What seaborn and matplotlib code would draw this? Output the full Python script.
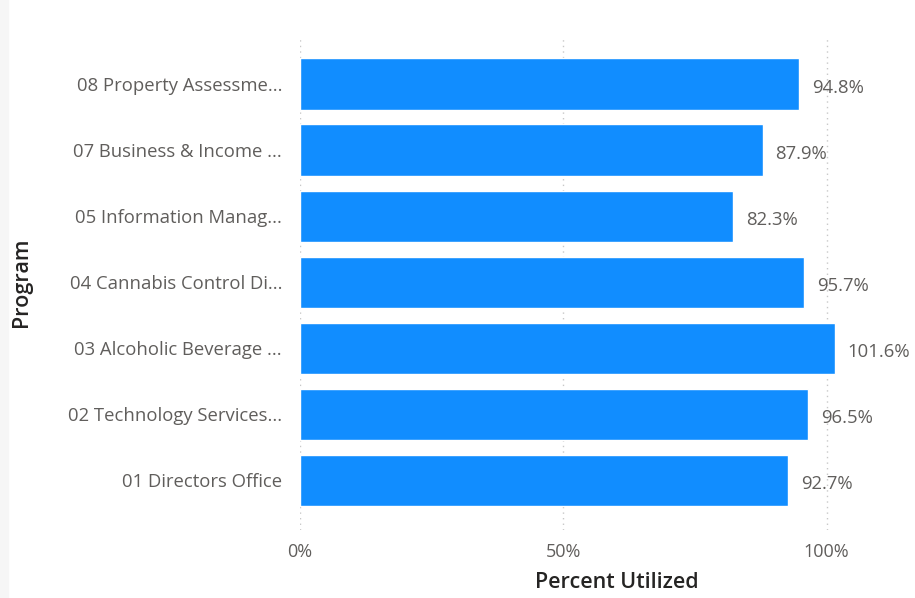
import matplotlib
matplotlib.use("Agg")
import matplotlib.pyplot as plt
import seaborn as sns
import pandas as pd

programs = [
    "08 Property Assessme...",
    "07 Business & Income ...",
    "05 Information Manag...",
    "04 Cannabis Control Di...",
    "03 Alcoholic Beverage ...",
    "02 Technology Services...",
    "01 Directors Office",
]
percent_utilized = [94.8, 87.9, 82.3, 95.7, 101.6, 96.5, 92.7]
x_ticks = [0, 50, 100]
x_tick_labels = ["0%", "50%", "100%"]

df = pd.DataFrame({"Program": programs, "Percent": percent_utilized})

sns.set_theme(style="white")
plt.rcParams["font.family"] = ["Open Sans", "DejaVu Sans"]

W, H = 915, 598
fig = plt.figure(figsize=(W / 100, H / 100), dpi=100)
fig.patches.append(plt.Rectangle((0, 0), 0.009, 1, transform=fig.transFigure,
                                 color="#f6f6f6", zorder=0))
ax = fig.add_axes([0.328, 0.1137, 0.656, 0.8228])

sns.barplot(data=df, x="Percent", y="Program", color="#118DFF", width=0.78,
            saturation=1, ax=ax, zorder=3)

for xt in x_ticks:
    ax.axvline(xt, color="#c8c8c8", linestyle=(0, (1, 3)), linewidth=1, zorder=1)

for i, v in enumerate(percent_utilized):
    ax.text(v + 2.4, i + 0.05, f"{v:.1f}%", va="center", ha="left",
            fontsize=13.3, color="#605E5C")

ax.set_xlim(0, 114)
ax.set_ylim(6.75, -0.7)
ax.set_xticks(x_ticks)
ax.set_xticklabels(x_tick_labels, fontsize=13, color="#605E5C")
ax.tick_params(axis="y", labelsize=13.3, labelcolor="#605E5C", length=0, pad=13)
ax.tick_params(axis="x", length=0, pad=9)
for s in ax.spines.values():
    s.set_visible(False)

ax.set_xlabel("")
ax.set_ylabel("")
fig.text(617 / W, 1 - 582 / H, "Percent Utilized", ha="center", va="center",
         fontsize=15.5, color="#252423", fontweight="semibold")
fig.text(21 / W, 1 - 282 / H, "Program", ha="center", va="center", rotation=90,
         fontsize=15.5, color="#252423", fontweight="semibold")

fig.savefig("out.png", dpi=100, facecolor="white")
